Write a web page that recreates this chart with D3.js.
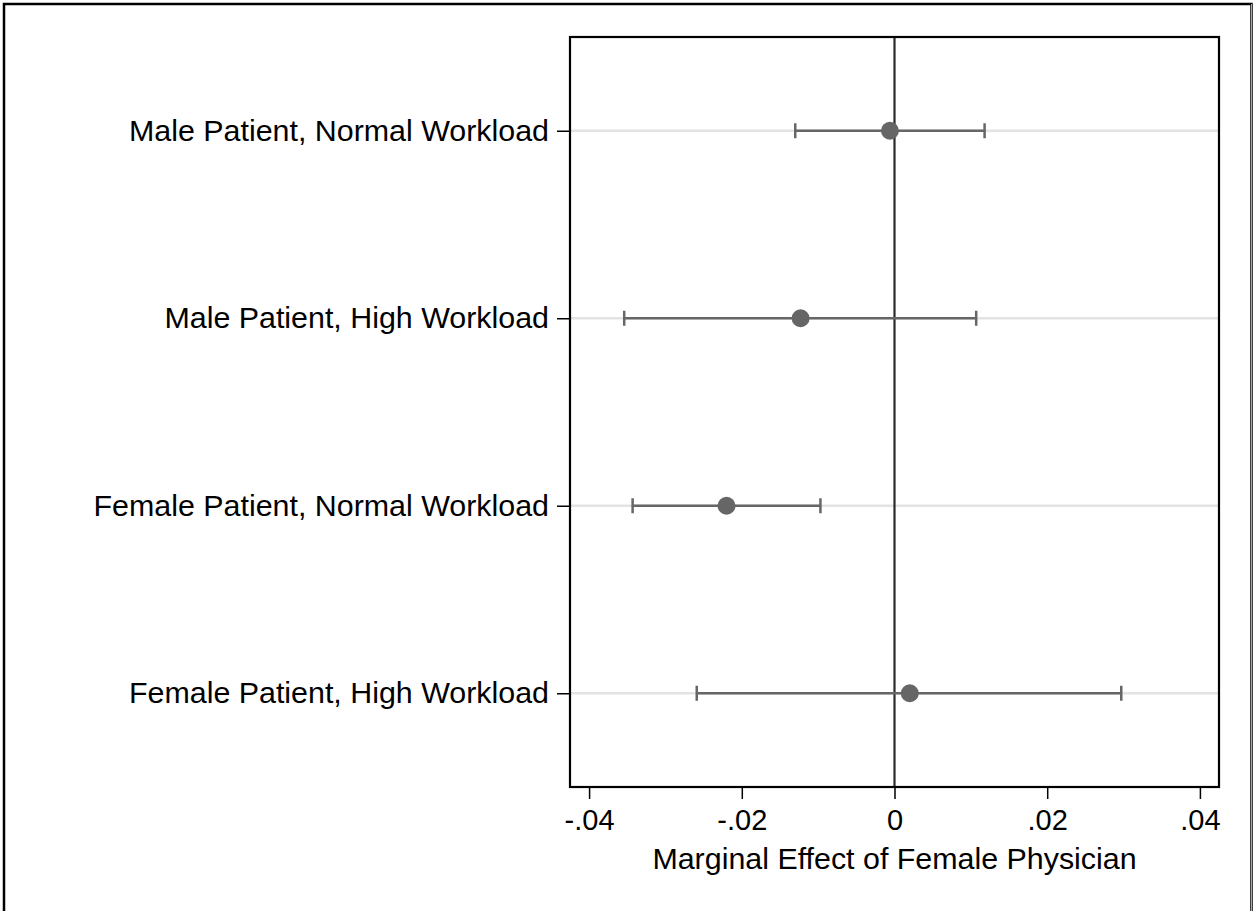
<!DOCTYPE html>
<html><head><meta charset="utf-8">
<script src="https://cdn.jsdelivr.net/npm/d3@7"></script>
<style>body{margin:0;background:#fff}svg{display:block}</style>
</head><body>
<script>
const categories = ["Male Patient, Normal Workload","Male Patient, High Workload","Female Patient, Normal Workload","Female Patient, High Workload"];
const estimates = [-0.0006, -0.0123, -0.0220, 0.0020];
const ciLow = [-0.0130, -0.0354, -0.0343, -0.0259];
const ciHigh = [0.0118, 0.0107, -0.0097, 0.0297];
const xTicks = [-0.04, -0.02, 0, 0.02, 0.04];
const xTickLabels = ["-.04", "-.02", "0", ".02", ".04"];
const xTitle = "Marginal Effect of Female Physician";

const W = 1253, H = 911;
const L = 570, R = 1219, T = 37, B = 787;
const svg = d3.select("body").append("svg").attr("width", W).attr("height", H);
svg.append("rect").attr("x",0).attr("y",0).attr("width",W).attr("height",H).attr("fill","#fff");
svg.append("path").attr("d",`M4,${H+2}V4H1251.5V${H+2}`).attr("fill","none").attr("stroke","#000").attr("stroke-width",2.5);
svg.append("line").attr("x1",1251.5).attr("x2",1251.5).attr("y1",4).attr("y2",H).attr("stroke","#aaa").attr("stroke-width",1);

const x = d3.scaleLinear().domain([-0.0425, 0.0425]).range([L, R]);
const y = d3.scalePoint().domain(categories).range([T, B]).padding(0.5);
const font = "'Liberation Sans', Arial, Helvetica, sans-serif";

// gridlines
svg.append("g").selectAll("line").data(categories).join("line")
  .attr("x1", L).attr("x2", R).attr("y1", d=>y(d)).attr("y2", d=>y(d))
  .attr("stroke","#e3e3e3").attr("stroke-width",2.5);

// zero line
svg.append("line").attr("x1", x(0)).attr("x2", x(0)).attr("y1", T).attr("y2", B)
  .attr("stroke","#2a2a2a").attr("stroke-width",2.2);

// error bars
const g = svg.append("g");
categories.forEach((c,i)=>{
  const yy = y(c);
  g.append("line").attr("x1", x(ciLow[i])).attr("x2", x(ciHigh[i])).attr("y1", yy).attr("y2", yy)
    .attr("stroke","#666").attr("stroke-width",2.5);
  [ciLow[i], ciHigh[i]].forEach(v=>{
    g.append("line").attr("x1", x(v)).attr("x2", x(v)).attr("y1", yy-7.5).attr("y2", yy+7.5)
      .attr("stroke","#666").attr("stroke-width",2.5);
  });
  g.append("circle").attr("cx", x(estimates[i])).attr("cy", yy).attr("r", 9).attr("fill","#666");
});

// frame
svg.append("rect").attr("x", L).attr("y", T).attr("width", R-L).attr("height", B-T)
  .attr("fill","none").attr("stroke","#000").attr("stroke-width",2.2);

// x axis
const xAxis = d3.axisBottom(x).tickValues(xTicks).tickFormat((d,i)=>xTickLabels[i]).tickSize(12).tickPadding(10);
const gx = svg.append("g").attr("transform",`translate(0,${B})`).call(xAxis);
gx.select(".domain").remove();
gx.selectAll(".tick line").attr("stroke","#000").attr("stroke-width",1.5);
gx.selectAll(".tick text").attr("font-family",font).attr("font-size",29).attr("fill","#000");

// y axis
const yAxis = d3.axisLeft(y).tickSize(13).tickPadding(8);
const gy = svg.append("g").attr("transform",`translate(${L},0)`).call(yAxis);
gy.select(".domain").remove();
gy.selectAll(".tick line").attr("stroke","#000").attr("stroke-width",1.5);
gy.selectAll(".tick text").attr("font-family",font).attr("font-size",30.4).attr("fill","#000");

svg.append("text").attr("x", x(0)).attr("y", 869).attr("text-anchor","middle")
  .attr("font-family",font).attr("font-size",30.4).attr("fill","#000").text(xTitle);
</script>
</body></html>
